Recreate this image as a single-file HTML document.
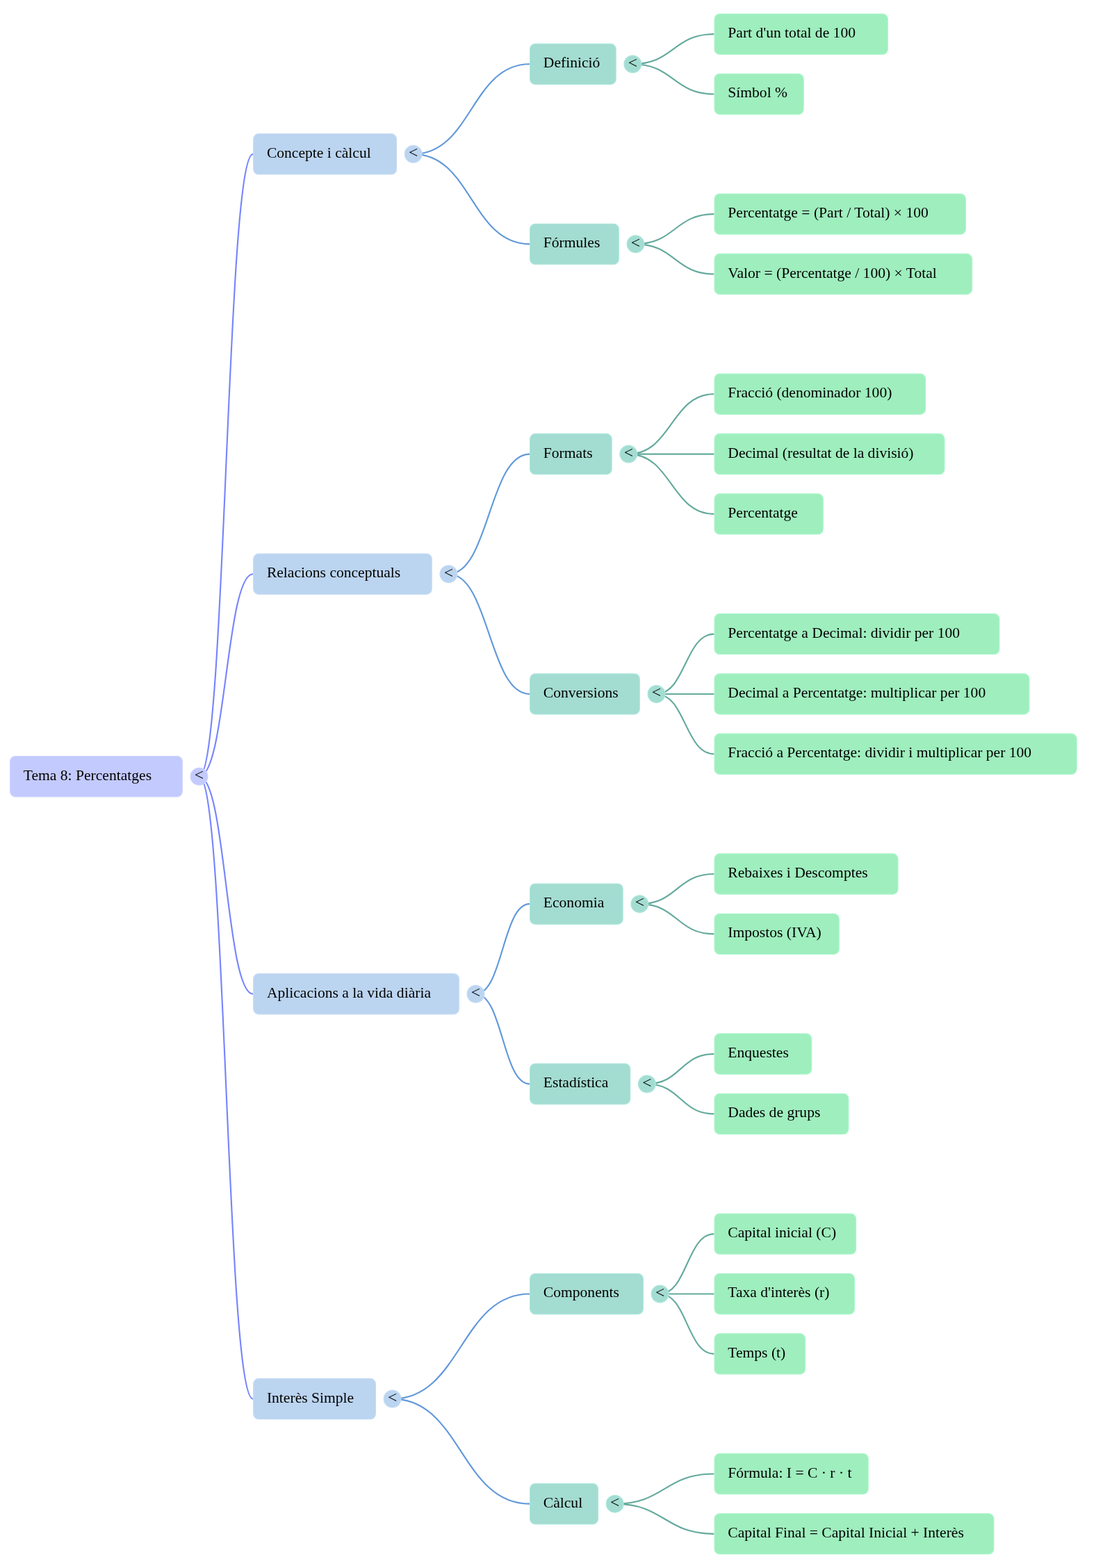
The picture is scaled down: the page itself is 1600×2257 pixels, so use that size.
<!DOCTYPE html>
<html lang="ca">
<head>
<meta charset="utf-8">
<title>Tema 8: Percentatges</title>
<style>
html,body{margin:0;padding:0;background:#fff;}
body{width:1600px;height:2257px;overflow:hidden;}
svg{display:block;will-change:transform;}
text{font-family:"Liberation Serif",serif;font-size:16px;fill:#000;}
.tg{font-size:17.5px;text-anchor:middle;}
.lk{fill:none;stroke-width:2.15;}
</style>
</head>
<body>
<svg width="1600" height="2257" viewBox="0 0 1600 2257">
<g>
<path class="lk" stroke="#65aa9d" d="M910.35,92.27C968.92,92.27 968.92,49.1 1027.5,49.1"/>
<path class="lk" stroke="#65aa9d" d="M910.35,92.27C968.92,92.27 968.92,135.45 1027.5,135.45"/>
<path class="lk" stroke="#65aa9d" d="M914.5,351.32C971,351.32 971,308.15 1027.5,308.15"/>
<path class="lk" stroke="#65aa9d" d="M914.5,351.32C971,351.32 971,394.5 1027.5,394.5"/>
<path class="lk" stroke="#6299da" d="M594.7,221.8C678.35,221.8 678.35,92.27 762,92.27"/>
<path class="lk" stroke="#6299da" d="M594.7,221.8C678.35,221.8 678.35,351.32 762,351.32"/>
<path class="lk" stroke="#65aa9d" d="M904.35,653.55C965.92,653.55 965.92,567.2 1027.5,567.2"/>
<path class="lk" stroke="#65aa9d" d="M904.35,653.55C965.92,653.55 965.92,653.55 1027.5,653.55"/>
<path class="lk" stroke="#65aa9d" d="M904.35,653.55C965.92,653.55 965.92,739.9 1027.5,739.9"/>
<path class="lk" stroke="#65aa9d" d="M944.5,998.95C986,998.95 986,912.6 1027.5,912.6"/>
<path class="lk" stroke="#65aa9d" d="M944.5,998.95C986,998.95 986,998.95 1027.5,998.95"/>
<path class="lk" stroke="#65aa9d" d="M944.5,998.95C986,998.95 986,1085.3 1027.5,1085.3"/>
<path class="lk" stroke="#6299da" d="M645.45,826.25C703.73,826.25 703.73,653.55 762,653.55"/>
<path class="lk" stroke="#6299da" d="M645.45,826.25C703.73,826.25 703.73,998.95 762,998.95"/>
<path class="lk" stroke="#65aa9d" d="M920.35,1301.17C973.92,1301.17 973.92,1258 1027.5,1258"/>
<path class="lk" stroke="#65aa9d" d="M920.35,1301.17C973.92,1301.17 973.92,1344.35 1027.5,1344.35"/>
<path class="lk" stroke="#65aa9d" d="M930.9,1560.22C979.2,1560.22 979.2,1517.05 1027.5,1517.05"/>
<path class="lk" stroke="#65aa9d" d="M930.9,1560.22C979.2,1560.22 979.2,1603.4 1027.5,1603.4"/>
<path class="lk" stroke="#6299da" d="M684.5,1430.7C723.25,1430.7 723.25,1301.17 762,1301.17"/>
<path class="lk" stroke="#6299da" d="M684.5,1430.7C723.25,1430.7 723.25,1560.22 762,1560.22"/>
<path class="lk" stroke="#65aa9d" d="M949.6,1862.45C988.55,1862.45 988.55,1776.1 1027.5,1776.1"/>
<path class="lk" stroke="#65aa9d" d="M949.6,1862.45C988.55,1862.45 988.55,1862.45 1027.5,1862.45"/>
<path class="lk" stroke="#65aa9d" d="M949.6,1862.45C988.55,1862.45 988.55,1948.8 1027.5,1948.8"/>
<path class="lk" stroke="#65aa9d" d="M884.7,2164.67C956.1,2164.67 956.1,2121.5 1027.5,2121.5"/>
<path class="lk" stroke="#65aa9d" d="M884.7,2164.67C956.1,2164.67 956.1,2207.85 1027.5,2207.85"/>
<path class="lk" stroke="#6299da" d="M564.6,2013.56C663.3,2013.56 663.3,1862.45 762,1862.45"/>
<path class="lk" stroke="#6299da" d="M564.6,2013.56C663.3,2013.56 663.3,2164.67 762,2164.67"/>
<path class="lk" stroke="#7785fd" d="M286.5,1117.68C325.3,1117.68 325.3,221.8 364.1,221.8"/>
<path class="lk" stroke="#7785fd" d="M286.5,1117.68C325.3,1117.68 325.3,826.25 364.1,826.25"/>
<path class="lk" stroke="#7785fd" d="M286.5,1117.68C325.3,1117.68 325.3,1430.7 364.1,1430.7"/>
<path class="lk" stroke="#7785fd" d="M286.5,1117.68C325.3,1117.68 325.3,2013.56 364.1,2013.56"/>
</g>
<g><rect x="14.68" y="1088.66" width="247.55" height="58.05" rx="7.4" ry="7.4" fill="#c3cafe" stroke="#ccd2fe" stroke-width="1.35"/><text transform="translate(33.8,1122.68) scale(1.3493)">Tema 8: Percentatges</text><circle cx="286.5" cy="1117.68" r="12.32" fill="#c3cafe" stroke="#ccd2fe" stroke-width="1.35"/><text transform="translate(286.5,1122.98) scale(1.3493,1.2818)" class="tg">&lt;</text></g>
<g><rect x="364.78" y="192.78" width="205.65" height="58.05" rx="7.4" ry="7.4" fill="#bbd4f0" stroke="#c4dbf4" stroke-width="1.35"/><text transform="translate(383.9,226.8) scale(1.3493)">Concepte i càlcul</text><circle cx="594.7" cy="221.8" r="12.32" fill="#bbd4f0" stroke="#c4dbf4" stroke-width="1.35"/><text transform="translate(594.7,227.1) scale(1.3493,1.2818)" class="tg">&lt;</text></g>
<g><rect x="364.78" y="797.22" width="256.4" height="58.05" rx="7.4" ry="7.4" fill="#bbd4f0" stroke="#c4dbf4" stroke-width="1.35"/><text transform="translate(383.9,831.25) scale(1.3493)">Relacions conceptuals</text><circle cx="645.45" cy="826.25" r="12.32" fill="#bbd4f0" stroke="#c4dbf4" stroke-width="1.35"/><text transform="translate(645.45,831.55) scale(1.3493,1.2818)" class="tg">&lt;</text></g>
<g><rect x="364.78" y="1401.67" width="295.45" height="58.05" rx="7.4" ry="7.4" fill="#bbd4f0" stroke="#c4dbf4" stroke-width="1.35"/><text transform="translate(383.9,1435.7) scale(1.3493)">Aplicacions a la vida diària</text><circle cx="684.5" cy="1430.7" r="12.32" fill="#bbd4f0" stroke="#c4dbf4" stroke-width="1.35"/><text transform="translate(684.5,1436) scale(1.3493,1.2818)" class="tg">&lt;</text></g>
<g><rect x="364.78" y="1984.54" width="175.55" height="58.05" rx="7.4" ry="7.4" fill="#bbd4f0" stroke="#c4dbf4" stroke-width="1.35"/><text transform="translate(383.9,2018.56) scale(1.3493)">Interès Simple</text><circle cx="564.6" cy="2013.56" r="12.32" fill="#bbd4f0" stroke="#c4dbf4" stroke-width="1.35"/><text transform="translate(564.6,2018.86) scale(1.3493,1.2818)" class="tg">&lt;</text></g>
<g><rect x="762.67" y="63.25" width="123.4" height="58.05" rx="7.4" ry="7.4" fill="#a3dcd1" stroke="#ace6dc" stroke-width="1.35"/><text transform="translate(781.8,97.27) scale(1.3493)">Definició</text><circle cx="910.35" cy="92.27" r="12.32" fill="#a3dcd1" stroke="#ace6dc" stroke-width="1.35"/><text transform="translate(910.35,97.57) scale(1.3493,1.2818)" class="tg">&lt;</text></g>
<g><rect x="762.67" y="322.3" width="127.55" height="58.05" rx="7.4" ry="7.4" fill="#a3dcd1" stroke="#ace6dc" stroke-width="1.35"/><text transform="translate(781.8,356.32) scale(1.3493)">Fórmules</text><circle cx="914.5" cy="351.32" r="12.32" fill="#a3dcd1" stroke="#ace6dc" stroke-width="1.35"/><text transform="translate(914.5,356.62) scale(1.3493,1.2818)" class="tg">&lt;</text></g>
<g><rect x="762.67" y="624.52" width="117.4" height="58.05" rx="7.4" ry="7.4" fill="#a3dcd1" stroke="#ace6dc" stroke-width="1.35"/><text transform="translate(781.8,658.55) scale(1.3493)">Formats</text><circle cx="904.35" cy="653.55" r="12.32" fill="#a3dcd1" stroke="#ace6dc" stroke-width="1.35"/><text transform="translate(904.35,658.85) scale(1.3493,1.2818)" class="tg">&lt;</text></g>
<g><rect x="762.67" y="969.92" width="157.55" height="58.05" rx="7.4" ry="7.4" fill="#a3dcd1" stroke="#ace6dc" stroke-width="1.35"/><text transform="translate(781.8,1003.95) scale(1.3493)">Conversions</text><circle cx="944.5" cy="998.95" r="12.32" fill="#a3dcd1" stroke="#ace6dc" stroke-width="1.35"/><text transform="translate(944.5,1004.25) scale(1.3493,1.2818)" class="tg">&lt;</text></g>
<g><rect x="762.67" y="1272.15" width="133.4" height="58.05" rx="7.4" ry="7.4" fill="#a3dcd1" stroke="#ace6dc" stroke-width="1.35"/><text transform="translate(781.8,1306.17) scale(1.3493)">Economia</text><circle cx="920.35" cy="1301.17" r="12.32" fill="#a3dcd1" stroke="#ace6dc" stroke-width="1.35"/><text transform="translate(920.35,1306.47) scale(1.3493,1.2818)" class="tg">&lt;</text></g>
<g><rect x="762.67" y="1531.2" width="143.95" height="58.05" rx="7.4" ry="7.4" fill="#a3dcd1" stroke="#ace6dc" stroke-width="1.35"/><text transform="translate(781.8,1565.22) scale(1.3493)">Estadística</text><circle cx="930.9" cy="1560.22" r="12.32" fill="#a3dcd1" stroke="#ace6dc" stroke-width="1.35"/><text transform="translate(930.9,1565.52) scale(1.3493,1.2818)" class="tg">&lt;</text></g>
<g><rect x="762.67" y="1833.42" width="162.65" height="58.05" rx="7.4" ry="7.4" fill="#a3dcd1" stroke="#ace6dc" stroke-width="1.35"/><text transform="translate(781.8,1867.45) scale(1.3493)">Components</text><circle cx="949.6" cy="1862.45" r="12.32" fill="#a3dcd1" stroke="#ace6dc" stroke-width="1.35"/><text transform="translate(949.6,1867.75) scale(1.3493,1.2818)" class="tg">&lt;</text></g>
<g><rect x="762.67" y="2135.65" width="97.75" height="58.05" rx="7.4" ry="7.4" fill="#a3dcd1" stroke="#ace6dc" stroke-width="1.35"/><text transform="translate(781.8,2169.67) scale(1.3493)">Càlcul</text><circle cx="884.7" cy="2164.67" r="12.32" fill="#a3dcd1" stroke="#ace6dc" stroke-width="1.35"/><text transform="translate(884.7,2169.97) scale(1.3493,1.2818)" class="tg">&lt;</text></g>
<g><rect x="1028.17" y="20.08" width="249.05" height="58.05" rx="7.4" ry="7.4" fill="#9feebe" stroke="#a9f5c9" stroke-width="1.35"/><text transform="translate(1047.3,54.1) scale(1.3493)">Part d'un total de 100</text></g>
<g><rect x="1028.17" y="106.42" width="127.95" height="58.05" rx="7.4" ry="7.4" fill="#9feebe" stroke="#a9f5c9" stroke-width="1.35"/><text transform="translate(1047.3,140.45) scale(1.3493)">Símbol %</text></g>
<g><rect x="1028.17" y="279.12" width="361.15" height="58.05" rx="7.4" ry="7.4" fill="#9feebe" stroke="#a9f5c9" stroke-width="1.35"/><text transform="translate(1047.3,313.15) scale(1.3493)">Percentatge = (Part / Total) × 100</text></g>
<g><rect x="1028.17" y="365.48" width="370.35" height="58.05" rx="7.4" ry="7.4" fill="#9feebe" stroke="#a9f5c9" stroke-width="1.35"/><text transform="translate(1047.3,399.5) scale(1.3493)">Valor = (Percentatge / 100) × Total</text></g>
<g><rect x="1028.17" y="538.17" width="303.35" height="58.05" rx="7.4" ry="7.4" fill="#9feebe" stroke="#a9f5c9" stroke-width="1.35"/><text transform="translate(1047.3,572.2) scale(1.3493)">Fracció (denominador 100)</text></g>
<g><rect x="1028.17" y="624.52" width="330.65" height="58.05" rx="7.4" ry="7.4" fill="#9feebe" stroke="#a9f5c9" stroke-width="1.35"/><text transform="translate(1047.3,658.55) scale(1.3493)">Decimal (resultat de la divisió)</text></g>
<g><rect x="1028.17" y="710.87" width="156.05" height="58.05" rx="7.4" ry="7.4" fill="#9feebe" stroke="#a9f5c9" stroke-width="1.35"/><text transform="translate(1047.3,744.9) scale(1.3493)">Percentatge</text></g>
<g><rect x="1028.17" y="883.57" width="409.65" height="58.05" rx="7.4" ry="7.4" fill="#9feebe" stroke="#a9f5c9" stroke-width="1.35"/><text transform="translate(1047.3,917.6) scale(1.3493)">Percentatge a Decimal: dividir per 100</text></g>
<g><rect x="1028.17" y="969.92" width="452.55" height="58.05" rx="7.4" ry="7.4" fill="#9feebe" stroke="#a9f5c9" stroke-width="1.35"/><text transform="translate(1047.3,1003.95) scale(1.3493)">Decimal a Percentatge: multiplicar per 100</text></g>
<g><rect x="1028.17" y="1056.27" width="520.85" height="58.05" rx="7.4" ry="7.4" fill="#9feebe" stroke="#a9f5c9" stroke-width="1.35"/><text transform="translate(1047.3,1090.3) scale(1.3493)">Fracció a Percentatge: dividir i multiplicar per 100</text></g>
<g><rect x="1028.17" y="1228.97" width="263.75" height="58.05" rx="7.4" ry="7.4" fill="#9feebe" stroke="#a9f5c9" stroke-width="1.35"/><text transform="translate(1047.3,1263) scale(1.3493)">Rebaixes i Descomptes</text></g>
<g><rect x="1028.17" y="1315.32" width="178.95" height="58.05" rx="7.4" ry="7.4" fill="#9feebe" stroke="#a9f5c9" stroke-width="1.35"/><text transform="translate(1047.3,1349.35) scale(1.3493)">Impostos (IVA)</text></g>
<g><rect x="1028.17" y="1488.02" width="139.45" height="58.05" rx="7.4" ry="7.4" fill="#9feebe" stroke="#a9f5c9" stroke-width="1.35"/><text transform="translate(1047.3,1522.05) scale(1.3493)">Enquestes</text></g>
<g><rect x="1028.17" y="1574.37" width="192.55" height="58.05" rx="7.4" ry="7.4" fill="#9feebe" stroke="#a9f5c9" stroke-width="1.35"/><text transform="translate(1047.3,1608.4) scale(1.3493)">Dades de grups</text></g>
<g><rect x="1028.17" y="1747.07" width="203.25" height="58.05" rx="7.4" ry="7.4" fill="#9feebe" stroke="#a9f5c9" stroke-width="1.35"/><text transform="translate(1047.3,1781.1) scale(1.3493)">Capital inicial (C)</text></g>
<g><rect x="1028.17" y="1833.42" width="201.25" height="58.05" rx="7.4" ry="7.4" fill="#9feebe" stroke="#a9f5c9" stroke-width="1.35"/><text transform="translate(1047.3,1867.45) scale(1.3493)">Taxa d'interès (r)</text></g>
<g><rect x="1028.17" y="1919.77" width="130.25" height="58.05" rx="7.4" ry="7.4" fill="#9feebe" stroke="#a9f5c9" stroke-width="1.35"/><text transform="translate(1047.3,1953.8) scale(1.3493)">Temps (t)</text></g>
<g><rect x="1028.17" y="2092.47" width="220.95" height="58.05" rx="7.4" ry="7.4" fill="#9feebe" stroke="#a9f5c9" stroke-width="1.35"/><text transform="translate(1047.3,2126.5) scale(1.3493)">Fórmula: I = C · r · t</text></g>
<g><rect x="1028.17" y="2178.83" width="401.55" height="58.05" rx="7.4" ry="7.4" fill="#9feebe" stroke="#a9f5c9" stroke-width="1.35"/><text transform="translate(1047.3,2212.85) scale(1.3493)">Capital Final = Capital Inicial + Interès</text></g>
</svg>
</body>
</html>
